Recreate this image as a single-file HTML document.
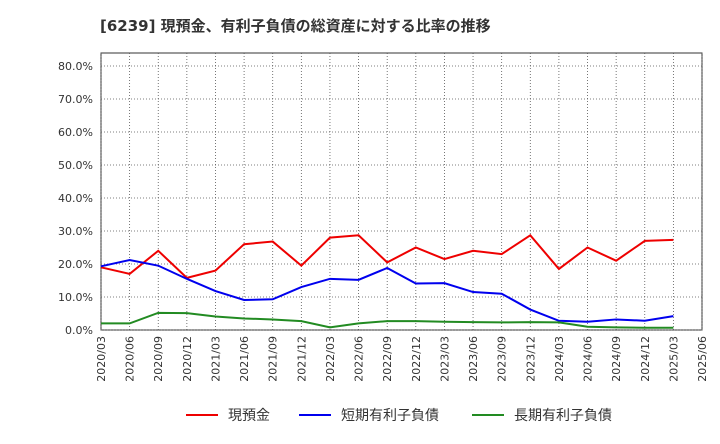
<!DOCTYPE html>
<html><head><meta charset="utf-8"><style>
body{margin:0;background:#fff;font-family:"DejaVu Sans","Noto Sans CJK JP",sans-serif;}
svg text{font-family:"DejaVu Sans","Noto Sans CJK JP",sans-serif;}
</style></head><body>
<svg id="chart" width="720" height="440" xmlns="http://www.w3.org/2000/svg">
<text x="100" y="31" font-size="15" font-weight="bold" fill="#333">[6239]  現預金、有利子負債の総資産に対する比率の推移</text>
<rect x="101" y="53" width="601" height="277" fill="#fff" stroke="#333" stroke-width="1"/>
<g id="grid"></g><g id="yticks"></g><g id="xticks"></g><g id="series"></g>
<g>
<line x1="186" y1="415" x2="218" y2="415" stroke="#e00" stroke-width="2"/>
<text x="228" y="420" font-size="14" fill="#333">現預金</text>
<line x1="299" y1="415" x2="331" y2="415" stroke="#00e" stroke-width="2"/>
<text x="341" y="420" font-size="14" fill="#333">短期有利子負債</text>
<line x1="472" y1="415" x2="504" y2="415" stroke="#228b22" stroke-width="2"/>
<text x="514" y="420" font-size="14" fill="#333">長期有利子負債</text>
</g>
</svg>
<script>
const categories=["2020/03","2020/06","2020/09","2020/12","2021/03","2021/06","2021/09","2021/12","2022/03","2022/06","2022/09","2022/12","2023/03","2023/06","2023/09","2023/12","2024/03","2024/06","2024/09","2024/12","2025/03","2025/06"];
const cash=[19,17,24,15.8,18,26,26.8,19.5,28,28.7,20.5,25,21.5,24,23,28.7,18.5,25,21,27,27.3];
const shortDebt=[19.3,21.2,19.5,15.5,11.8,9.1,9.3,13,15.5,15.2,18.8,14.1,14.2,11.5,11,6.2,2.8,2.5,3.2,2.8,4.2];
const longDebt=[2,2,5.2,5.1,4.1,3.5,3.2,2.7,0.8,2,2.7,2.7,2.5,2.4,2.3,2.4,2.3,1,0.8,0.7,0.7];
const yTicks=[0,10,20,30,40,50,60,70,80];
const NS="http://www.w3.org/2000/svg";
const x0=101,x1=702,yb=330;
const xs=i=>x0+i*(x1-x0)/(categories.length-1);
const ys=v=>yb-v*3.3;
function mk(t,a,p){const e=document.createElementNS(NS,t);for(const k in a)e.setAttribute(k,a[k]);p.appendChild(e);return e;}
const grid=document.getElementById('grid'),yt=document.getElementById('yticks'),xt=document.getElementById('xticks'),se=document.getElementById('series');
yTicks.forEach(v=>{
 const l=mk('line',{x1:x0,x2:x1,y1:ys(v),y2:ys(v),stroke:'#555','stroke-width':0.8,'stroke-dasharray':'1,2'},grid);
 
 
 const t=mk('text',{x:93,y:ys(v)+4,'font-size':11,'text-anchor':'end',fill:'#333'},yt);
 t.textContent=v.toFixed(1)+'%';
 
 
});
categories.forEach((c,i)=>{
 const l=mk('line',{x1:xs(i),x2:xs(i),y1:53,y2:yb,stroke:'#555','stroke-width':0.8,'stroke-dasharray':'1,2'},grid);
 
 
 const t=mk('text',{x:0,y:0,'font-size':11,'text-anchor':'end',fill:'#333',transform:`translate(${xs(i)+4},336) rotate(-90)`},xt);
 t.textContent=c;
 
 
});
[[cash,'#e00','cash-line'],[shortDebt,'#00e','short-debt-line'],[longDebt,'#228b22','long-debt-line']].forEach(([d,col,n])=>{
 const p=mk('polyline',{points:d.map((v,i)=>xs(i)+','+ys(v)).join(' '),fill:'none',stroke:col,'stroke-width':2},se);
 
 
});
</script>
</body></html>
